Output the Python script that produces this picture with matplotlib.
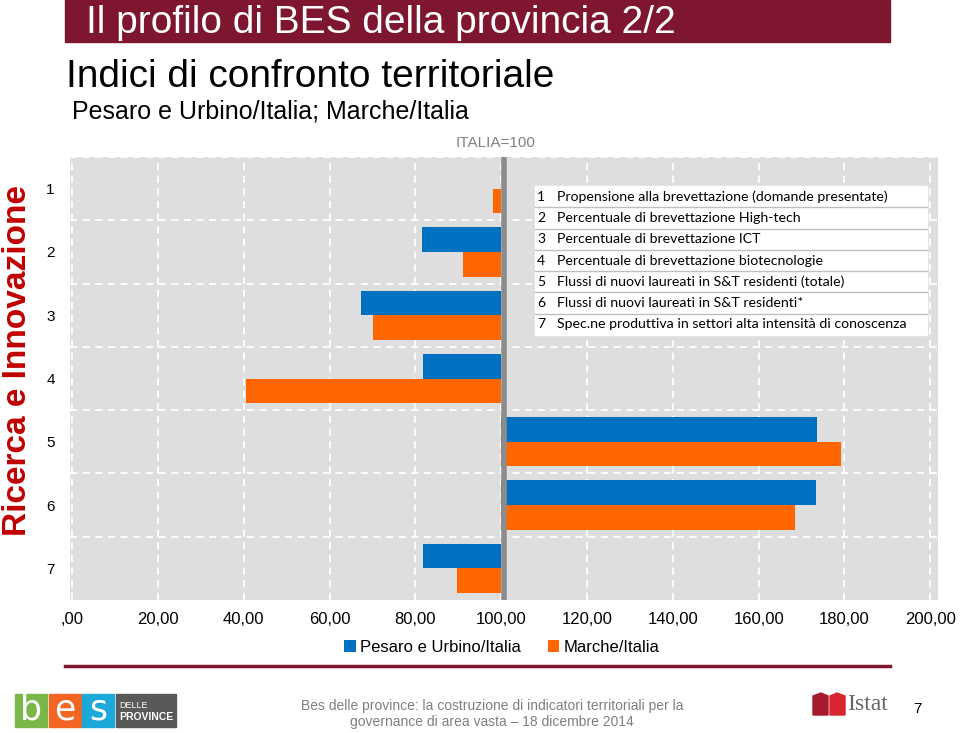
import numpy as np
import matplotlib.pyplot as plt
from matplotlib.patches import Rectangle, Polygon
from matplotlib.lines import Line2D

categories = ['1', '2', '3', '4', '5', '6', '7']
descrizioni = [
    'Propensione alla brevettazione (domande presentate)',
    'Percentuale di brevettazione High-tech',
    'Percentuale di brevettazione ICT',
    'Percentuale di brevettazione biotecnologie',
    'Flussi di nuovi laureati in S&T residenti (totale)',
    'Flussi di nuovi laureati in S&T residenti*',
    'Spec.ne produttiva in settori alta intensità di conoscenza',
]
pesaro = [100.0, 81.6, 67.4, 81.8, 173.7, 173.4, 81.8]
marche = [98.1, 91.1, 70.2, 40.6, 179.3, 168.5, 89.7]
xticks = [0, 20, 40, 60, 80, 100, 120, 140, 160, 180, 200]
xtick_labels = [',00', '20,00', '40,00', '60,00', '80,00', '100,00',
                '120,00', '140,00', '160,00', '180,00', '200,00']

W, H = 960, 733
def fx(x): return x / W
def fy(y): return 1 - y / H

narrow = ['Liberation Sans', 'DejaVu Sans']
maroon = '#7E1630'
blue = '#0070C0'
orange = '#FF6600'

fig = plt.figure(figsize=(9.6, 7.33), dpi=100)
fig.patch.set_facecolor('white')

# intestazione
fig.add_artist(Rectangle((fx(65), fy(42)), fx(890) - fx(65), 42 / H,
                         color=maroon, transform=fig.transFigure))
fig.text(fx(86), fy(23), 'Il profilo di BES della provincia 2/2', color='white',
         fontsize=28, family=narrow, va='center')
fig.text(fx(66), fy(77), 'Indici di confronto territoriale', color='black',
         fontsize=28, family=narrow, va='center')
fig.text(fx(72), fy(112), 'Pesaro e Urbino/Italia; Marche/Italia', color='black',
         fontsize=18, family=narrow, va='center')
fig.text(fx(496), fy(143), 'ITALIA=100', color='#808080',
         fontsize=11, family=narrow, ha='center', va='center')
fig.text(fx(18), fy(360), 'Ricerca e Innovazione', color='#C00000', fontsize=24,
         fontweight='bold', family='Liberation Sans', rotation=90,
         ha='center', va='center')

# grafico
ax = fig.add_axes([fx(70), fy(600), fx(938) - fx(70), (600 - 157) / H])
ax.set_facecolor('#DEDEDE')
y = np.arange(1, len(categories) + 1)
h = 0.39
b1 = ax.barh(y - h / 2, np.array(pesaro) - 100, left=100, height=h,
             color=blue, label='Pesaro e Urbino/Italia', zorder=2)
b2 = ax.barh(y + h / 2, np.array(marche) - 100, left=100, height=h,
             color=orange, label='Marche/Italia', zorder=2)
for x in xticks:
    ax.axvline(x, color='white', ls=(0, (4, 3)), lw=1.3, zorder=1)
for yy in np.arange(0.5, 7.0, 1.0):
    ax.axhline(yy, color='white', ls=(0, (4, 3)), lw=1.3, zorder=1)
ax.axvline(100.6, color='#8C8C8C', lw=4, zorder=3)

ax.set_xlim(-0.5, 201.8)
ax.set_ylim(7.5, 0.5)
ax.set_xticks(xticks, xtick_labels)
ax.set_yticks(y, categories)
ax.tick_params(length=0)
ax.tick_params(axis='x', pad=9, labelsize=12)
ax.tick_params(axis='y', pad=11, labelsize=11)
for lab in ax.get_xticklabels() + ax.get_yticklabels():
    lab.set_family(narrow)
for s in ax.spines.values():
    s.set_visible(False)

# tabella legenda indicatori
top, row = 186, 21.3
fig.add_artist(Rectangle((fx(535), fy(top + 7 * row)), fx(927) - fx(535), 7 * row / H,
                         color='white', transform=fig.transFigure, zorder=4))
for i, (c, d) in enumerate(zip(categories, descrizioni)):
    yc = top + (i + 0.5) * row
    fig.text(fx(537), fy(yc), c, fontsize=10, family='Lato', va='center', zorder=5)
    fig.text(fx(557), fy(yc), d, fontsize=10.2, family='Lato', va='center', zorder=5)
    if i > 0:
        fig.add_artist(Line2D([fx(535), fx(927)], [fy(top + i * row)] * 2,
                              color='#BFBFBF', lw=1, transform=fig.transFigure, zorder=5))

# legenda serie
fig.legend(handles=[b1, b2], loc='center', bbox_to_anchor=(fx(502), fy(647)),
           ncol=2, frameon=False, handlelength=0.7, handleheight=0.7,
           handletextpad=0.25, columnspacing=1.6,
           prop={'family': narrow, 'size': 12})

# piede
fig.add_artist(Line2D([fx(65), fx(890)], [fy(666)] * 2, color=maroon, lw=2.5,
                      transform=fig.transFigure))
fig.text(fx(492), fy(706), 'Bes delle province: la costruzione di indicatori territoriali per la',
         color='#7F7F7F', fontsize=10, family=narrow, ha='center', va='center')
fig.text(fx(492), fy(722), 'governance di area vasta – 18 dicembre 2014',
         color='#7F7F7F', fontsize=10, family=narrow, ha='center', va='center')

logo = [('b', 15, '#7AB648'), ('e', 49, '#F26522'), ('s', 82, '#1CA8D8')]
for letter, x0, col in logo:
    fig.add_artist(Rectangle((fx(x0), fy(727)), 32 / W, 33 / H, color=col,
                             transform=fig.transFigure))
    fig.text(fx(x0 + 16), fy(709), letter, color='white', fontsize=25,
             family='DejaVu Sans', ha='center', va='center')
fig.add_artist(Rectangle((fx(116), fy(727)), 60 / W, 33 / H, color='#595959',
                         transform=fig.transFigure))
fig.text(fx(119), fy(705), 'DELLE', color='white', fontsize=6.5, family=narrow, va='center')
fig.text(fx(119), fy(717), 'PROVINCE', color='white', fontsize=7.5, fontweight='bold',
         family=narrow, va='center')

fig.add_artist(Polygon([(fx(813), fy(715)), (fx(813), fy(696)), (fx(821), fy(693)),
                        (fx(828), fy(696)), (fx(828), fy(715))], color='#A6192E',
                       transform=fig.transFigure))
fig.add_artist(Polygon([(fx(830), fy(715)), (fx(830), fy(696)), (fx(837), fy(693)),
                        (fx(845), fy(696)), (fx(845), fy(715))], color='#D9262E',
                       transform=fig.transFigure))
fig.text(fx(847), fy(705), 'Istat', color='#666666', fontsize=17,
         family='Liberation Serif', va='center')
fig.text(fx(917), fy(709), '7', color='black', fontsize=11, family=narrow,
         ha='center', va='center')

fig.savefig('out.png', dpi=100)
